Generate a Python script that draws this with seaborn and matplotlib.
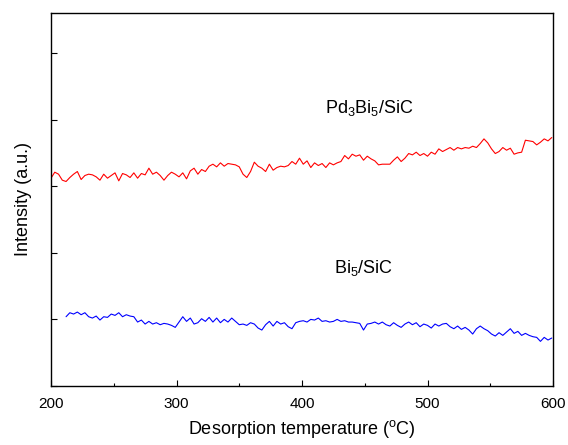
import numpy as np
import pandas as pd
import matplotlib
matplotlib.use("Agg")
import matplotlib.pyplot as plt
import seaborn as sns
from matplotlib.ticker import MultipleLocator

# ---- data ----
red_start, red_step = 200, 3
red_y = [312, 321, 318, 309, 307, 313, 318, 322, 310, 316, 318, 317, 314, 309, 318, 312,
         316, 320, 308, 319, 317, 313, 320, 312, 319, 317, 327, 318, 321, 316, 309, 316,
         321, 318, 314, 320, 311, 323, 327, 318, 325, 322, 330, 333, 329, 335, 330, 334,
         333, 332, 329, 318, 313, 322, 336, 330, 327, 322, 333, 324, 328, 330, 329, 331,
         337, 333, 342, 333, 338, 328, 335, 331, 334, 328, 335, 332, 335, 337, 346, 341,
         348, 345, 347, 339, 345, 341, 338, 332, 333, 333, 333, 339, 344, 337, 342, 349,
         347, 351, 346, 349, 345, 351, 348, 356, 352, 355, 358, 354, 358, 356, 358, 357,
         360, 358, 364, 371, 365, 356, 349, 352, 358, 354, 357, 348, 350, 351, 369, 368,
         367, 362, 366, 371, 368, 373]

blue_start, blue_step = 212, 3
blue_y = [104, 110, 108, 111, 107, 110, 104, 102, 105, 99, 104, 103, 108, 106, 110, 104,
          107, 105, 104, 96, 99, 93, 97, 93, 95, 92, 94, 93, 91, 88, 96, 104,
          97, 102, 93, 95, 101, 97, 103, 96, 102, 95, 100, 96, 102, 97, 92, 93,
          91, 95, 93, 87, 84, 92, 97, 90, 97, 93, 95, 89, 86, 95, 97, 98,
          96, 100, 99, 102, 97, 98, 96, 97, 100, 97, 98, 96, 96, 95, 94, 84,
          93, 94, 96, 93, 96, 92, 90, 95, 91, 88, 93, 96, 92, 95, 89, 93,
          91, 87, 93, 90, 93, 94, 89, 86, 90, 85, 88, 84, 78, 86, 90, 86,
          83, 78, 75, 80, 76, 81, 86, 79, 82, 76, 79, 76, 74, 73, 67, 73,
          69, 72]

labels = [r"Pd$_3$Bi$_5$/SiC", r"Bi$_5$/SiC"]
label_pos = [(454, 417), (449, 177)]
xticks = [200, 300, 400, 500, 600]

red_x = red_start + red_step * np.arange(len(red_y))
blue_x = blue_start + blue_step * np.arange(len(blue_y))
df = pd.concat([
    pd.DataFrame({"T": red_x, "I": red_y, "s": "Pd3Bi5/SiC"}),
    pd.DataFrame({"T": blue_x, "I": blue_y, "s": "Bi5/SiC"}),
])

sns.set_style("ticks")
plt.rcParams["font.family"] = ["Liberation Sans", "DejaVu Sans"]
plt.rcParams["mathtext.fontset"] = "custom"
plt.rcParams["mathtext.rm"] = "Liberation Sans"
plt.rcParams["mathtext.it"] = "Liberation Sans"
plt.rcParams["text.color"] = "black"
plt.rcParams["axes.labelcolor"] = "black"
plt.rcParams["xtick.color"] = "black"
plt.rcParams["ytick.color"] = "black"

fig = plt.figure(figsize=(5.68, 4.45), dpi=100)
ax = fig.add_axes([0.0898, 0.1326, 0.8838, 0.8382])

sns.lineplot(data=df, x="T", y="I", hue="s", palette={"Pd3Bi5/SiC": "#ff0000", "Bi5/SiC": "#0000ff"},
             linewidth=0.8, legend=False, ax=ax, estimator=None, sort=False)

ax.set_xlim(200, 600)
ax.set_ylim(0, 560)
ax.set_xticks(xticks)
ax.xaxis.set_minor_locator(MultipleLocator(50))
ax.yaxis.set_major_locator(MultipleLocator(100))
ax.set_yticklabels([])
ax.tick_params(axis="both", which="major", direction="in", length=4, width=0.8,
               top=False, right=False, labelsize=11, colors="black")
ax.tick_params(axis="x", which="major", pad=8)
ax.tick_params(axis="x", which="minor", direction="in", length=2.5, width=0.8, top=False)
for sp in ax.spines.values():
    sp.set_linewidth(1.0)
    sp.set_color("black")

ax.set_xlabel(r"Desorption temperature ($^{\rm o}$C)", fontsize=13, labelpad=5, color="black")
ax.set_ylabel("Intensity (a.u.)", fontsize=13, labelpad=10, color="black")

for t, (x, y) in zip(labels, label_pos):
    ax.text(x, y, t, ha="center", va="center", fontsize=13, color="black")

fig.savefig("out.png", dpi=100)
